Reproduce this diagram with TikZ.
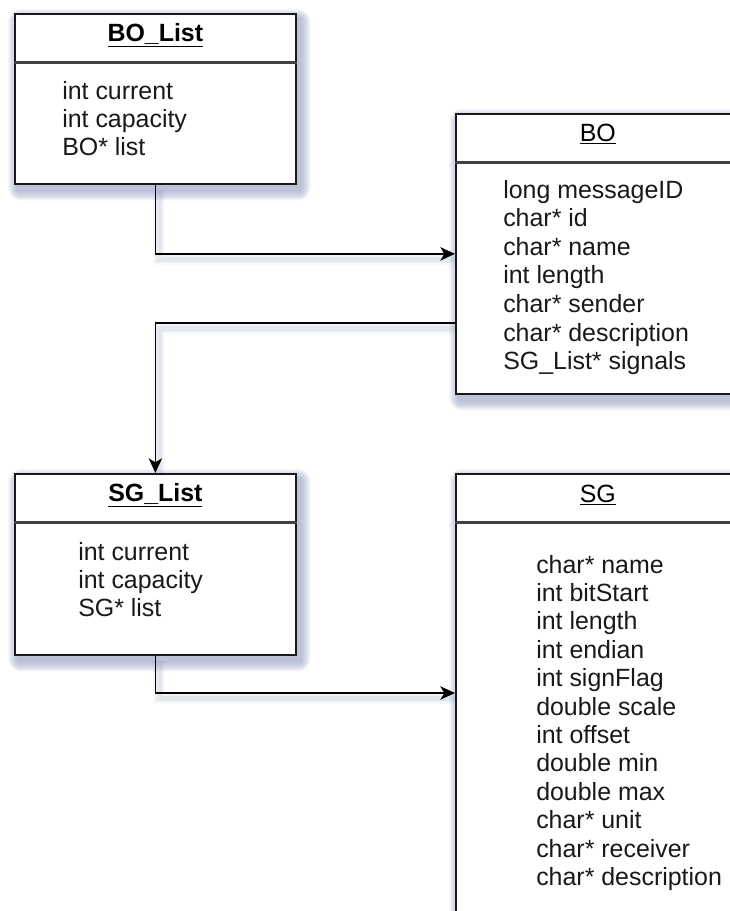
\documentclass[tikz,border=0pt]{standalone}
\usepackage{fontspec}
\setmainfont{Liberation Sans}
\usetikzlibrary{calc,arrows.meta}
\pgfdeclarelayer{bg}
\pgfsetlayers{bg,main}
\definecolor{shadowc}{RGB}{120,132,175}
\tikzset{
  classbox/.style={draw=black!90, line width=1.3pt, fill=white, inner sep=0pt, anchor=north west},
  titletext/.style={font=\fontsize{18.7}{21}\selectfont, anchor=base, inner sep=0pt},
  fieldtext/.style={font=\fontsize{18.7}{21}\selectfont, anchor=base west, inner sep=0pt, text=black!90},
  divider/.style={draw=black!75, line width=1.6pt},
  link/.style={draw=black, line width=1.3pt, -{Stealth[length=11pt,width=10pt,inset=3pt]}},
}
% soft drop shadow behind a class box
\newcommand\boxshade[1]{%
  \foreach \k in {0,...,9}{%
    \pgfmathsetmacro\rr{10-\k}%
    \fill[shadowc, opacity=0.065, rounded corners=\rr pt]
      ($(#1.north west)+(4-10+\k, 6-10+\k)$) rectangle ($(#1.south east)+(4+10-\k, 6+10-\k)$);
  }}
% soft shadow under a connector
\newcommand\linkshade[1]{%
  \foreach \w/\o in {9/0.05,6/0.07,3.5/0.09}{%
    \draw[shadowc, line width=\w pt, opacity=\o, transform canvas={xshift=3pt,yshift=-4pt}] #1;
  }}
\begin{document}
\begin{tikzpicture}[x=0.75pt, y=-0.75pt]
  \useasboundingbox (0,0) rectangle (730,911);
  \clip (0,0) rectangle (730,911);

  % class boxes
  \node[classbox, minimum width=210.75pt, minimum height=127.5pt] (bolist) at (14,13) {};
  \node[classbox, minimum width=213pt, minimum height=210pt] (bo) at (455,113) {};
  \node[classbox, minimum width=210.75pt, minimum height=135.75pt] (sglist) at (14,473) {};
  \node[classbox, minimum width=213pt, minimum height=352.5pt] (sg) at (455,473) {};

  % header dividers
  \foreach \b in {bolist,bo,sglist,sg}{
    \draw[divider] ($(\b.north west)+(0,49.5)$) -- ($(\b.north east)+(0,49.5)$);
  }

  % class names
  \node[titletext] (bolist-title) at ($(bolist.north)+(0,28)$) {\textbf{\underline{BO\_List}}};
  \node[titletext] (bo-title) at ($(bo.north)+(0,28)$) {\underline{BO}};
  \node[titletext] (sglist-title) at ($(sglist.north)+(0,28.5)$) {\textbf{\underline{SG\_List}}};
  \node[titletext] (sg-title) at ($(sg.north)+(0,29)$) {\underline{SG}};

  % fields
  \foreach \t [count=\i] in {int current, int capacity, BO* list}
    \node[fieldtext] (bolist-\i) at ($(bolist.north west)+(48,86+28*\i-28)$) {\t};
  \foreach \t [count=\i] in {long messageID, char* id, char* name, int length,
      char* sender, char* description, SG\_List* signals}
    \node[fieldtext] (bo-\i) at ($(bo.north west)+(48,85+28.6*\i-28.6)$) {\t};
  \foreach \t [count=\i] in {int current, int capacity, SG* list}
    \node[fieldtext] (sglist-\i) at ($(sglist.north west)+(64,87+28*\i-28)$) {\t};
  \foreach \t [count=\i] in {char* name, int bitStart, int length, int endian,
      int signFlag, double scale, int offset, double min, double max,
      char* unit, char* receiver, char* description}
    \node[fieldtext] (sg-\i) at ($(sg.north west)+(81,100+28.4*\i-28.4)$) {\t};

  % connector end points on box sides
  \coordinate (bo-out) at ($(bo.north west)+(0,210)$);
  \coordinate (sg-in) at ($(sg.north west)+(0,220)$);

  % shadows
  \begin{pgfonlayer}{bg}
    \boxshade{bolist}
    \boxshade{bo}
    \boxshade{sglist}
    \boxshade{sg}
    \linkshade{(bolist.south) |- (bo.west)}
    \linkshade{(bo-out) -| (sglist.north)}
    \linkshade{(sglist.south) |- (sg-in)}
  \end{pgfonlayer}

  % connectors
  \draw[link] (bolist.south) |- (bo.west);
  \draw[link] (bo-out) -| (sglist.north);
  \draw[link] (sglist.south) |- (sg-in);
\end{tikzpicture}
\end{document}
